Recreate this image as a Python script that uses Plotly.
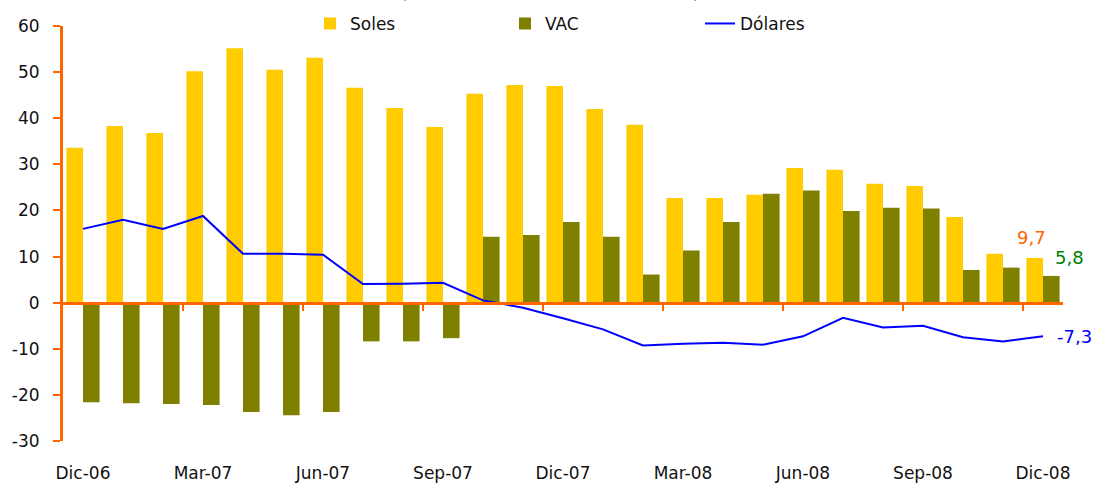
import plotly.graph_objects as go

months = ["Dic-06", "Ene-07", "Feb-07", "Mar-07", "Abr-07", "May-07", "Jun-07", "Jul-07",
          "Ago-07", "Sep-07", "Oct-07", "Nov-07", "Dic-07", "Ene-08", "Feb-08", "Mar-08",
          "Abr-08", "May-08", "Jun-08", "Jul-08", "Ago-08", "Sep-08", "Oct-08", "Nov-08", "Dic-08"]
soles = [33.6, 38.3, 36.8, 50.2, 55.2, 50.5, 53.1, 46.6, 42.2, 38.1, 45.3, 47.2, 47.0,
         42.0, 38.6, 22.7, 22.7, 23.4, 29.2, 28.8, 25.8, 25.3, 18.6, 10.6, 9.7]
vac = [-21.6, -21.8, -22.0, -22.2, -23.7, -24.4, -23.7, -8.4, -8.4, -7.7, 14.3, 14.7, 17.5,
       14.3, 6.1, 11.3, 17.5, 23.6, 24.3, 19.9, 20.6, 20.4, 7.1, 7.6, 5.8]
dolares = [16.0, 18.0, 16.0, 18.8, 10.6, 10.6, 10.4, 4.05, 4.1, 4.3, 0.5, -1.1, -3.4,
           -5.8, -9.3, -8.9, -8.7, -9.1, -7.3, -3.3, -5.4, -5.0, -7.5, -8.4, -7.3]
tick_labels = ["Dic-06", "Mar-07", "Jun-07", "Sep-07", "Dic-07", "Mar-08", "Jun-08", "Sep-08", "Dic-08"]
y_ticks = [-30, -20, -10, 0, 10, 20, 30, 40, 50, 60]
y_tick_text = ["-30", "-20", "-10", "0", "10", "20", "30", "40", "50", "60"]

idx = list(range(len(months)))
label_pos = idx[::3]
boundary_pos = [i + 2.5 for i in range(0, len(months) - 3, 3)]

ORANGE = "#FF6600"
FONT = "DejaVu Sans"

fig = go.Figure()
fig.add_trace(go.Bar(x=idx, y=soles, name="Soles", marker_color="#FFCC00",
                     marker_line_width=0, hovertext=months))
fig.add_trace(go.Bar(x=idx, y=vac, name="VAC", marker_color="#808000",
                     marker_line_width=0, hovertext=months))
fig.add_trace(go.Scatter(x=idx, y=dolares, name="Dólares", mode="lines",
                         line=dict(color="#0000FF", width=2), hovertext=months))

fig.update_layout(
    width=1099, height=485,
    margin=dict(l=63, r=36, t=26, b=44, autoexpand=False),
    paper_bgcolor="white", plot_bgcolor="white",
    barmode="group", bargap=0.17, bargroupgap=0,
    font=dict(family=FONT, size=16, color="#111111"),
    showlegend=True,
    legend=dict(orientation="h", x=0.247, xanchor="left", y=1.005, yanchor="middle",
                font=dict(family=FONT, size=17, color="#111111"),
                entrywidth=150, entrywidthmode="pixels", bgcolor="rgba(0,0,0,0)",
                traceorder="normal"),
    xaxis=dict(range=[-0.5, len(months) - 0.5], tickmode="array", tickvals=label_pos,
               ticktext=tick_labels, showline=False, showgrid=False, zeroline=False,
               ticks="", ticklabelstandoff=20, tickfont=dict(family=FONT, size=17, color="#111111")),
    xaxis2=dict(range=[-0.5, len(months) - 0.5], overlaying="x", anchor="free", position=1/3,
                tickmode="array", tickvals=boundary_pos, showticklabels=False,
                showline=True, linecolor=ORANGE, linewidth=3, ticks="outside",
                ticklen=6, tickwidth=2, tickcolor=ORANGE, showgrid=False, zeroline=False),
    yaxis=dict(range=[-30, 60], tickmode="array", tickvals=y_ticks, ticktext=y_tick_text,
               showgrid=False, zeroline=False,
               showline=True, linecolor=ORANGE, linewidth=3, ticks="outside",
               ticklen=7, tickwidth=2, tickcolor=ORANGE, ticklabelstandoff=10,
               tickfont=dict(family=FONT, size=17, color="#111111")),
)

# invisible trace to activate xaxis2 (orange zero axis line with its tick marks)
fig.add_trace(go.Scatter(x=[idx[0]], y=[0], xaxis="x2", mode="markers",
                         marker=dict(opacity=0), showlegend=False, hoverinfo="skip"))

fig.add_annotation(x=idx[-1], y=soles[-1], text="9,7", showarrow=False, xshift=-12, yshift=8,
                   yanchor="bottom", font=dict(family=FONT, size=18, color=ORANGE))
fig.add_annotation(x=idx[-1], y=vac[-1], text="5,8", showarrow=False, xshift=26, yshift=18,
                   yanchor="middle", font=dict(family=FONT, size=18, color="#008000"))
fig.add_annotation(x=idx[-1], y=dolares[-1], text="-7,3", showarrow=False, xshift=12,
                   xanchor="left", yanchor="middle", font=dict(family=FONT, size=18, color="#0000FF"))
fig.add_annotation(x=0.487, xref="paper", y=1, yref="paper", yshift=22, yanchor="bottom",
                   text="(Variación % últimos 12 meses)", showarrow=False,
                   font=dict(family=FONT, size=19, color="#0000FF"))

fig.write_html("out.html")
